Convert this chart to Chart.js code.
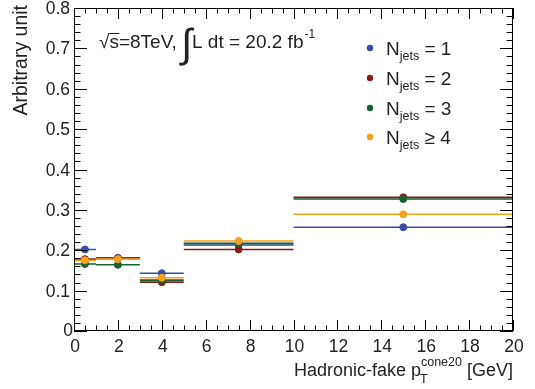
<!DOCTYPE html>
<html>
<head>
  <title>Hadronic-fake pT cone20</title>
  <style>
    body { margin: 0; background: #fff; }
    canvas { display: block; }
  </style>
</head>
<body>
  <canvas id="chart" width="535" height="389"></canvas>

  <script src="https://cdn.jsdelivr.net/npm/chart.js"></script>
  <script>
    // bins in pT cone20 [GeV]
    const binLo = [0, 1, 3, 5, 10];
    const binHi = [1, 3, 5, 10, 20];
    const binMid = [0.5, 2, 4, 7.5, 15];

    // arbitrary unit per bin
    const nJets1 = [0.202, 0.181, 0.143, 0.213, 0.257];
    const nJets2 = [0.178, 0.180, 0.121, 0.202, 0.331];
    const nJets3 = [0.166, 0.164, 0.126, 0.217, 0.327];
    const nJets4 = [0.175, 0.178, 0.132, 0.223, 0.289];

    const xTicks = [0, 2, 4, 6, 8, 10, 12, 14, 16, 18, 20];
    const yTicks = [0, 0.1, 0.2, 0.3, 0.4, 0.5, 0.6, 0.7, 0.8];
    const yTickLabels = ['0', '0.1', '0.2', '0.3', '0.4', '0.5', '0.6', '0.7', '0.8'];

    const FONT = '"Liberation Sans", Arial, sans-serif';

    const series = [
      { name: '\u2265 4', values: nJets4, color: '#f7a21b' },
      { name: '= 3', values: nJets3, color: '#1b6032' },
      { name: '= 2', values: nJets2, color: '#8c1c1c' },
      { name: '= 1', values: nJets1, color: '#3a4ba6' }
    ];

    function segments(values) {
      const out = [];
      values.forEach((v, i) => {
        out.push({ x: binLo[i], y: v });
        out.push({ x: binHi[i], y: v });
        out.push({ x: binHi[i], y: null });
      });
      return out;
    }

    const datasets = [];
    series.forEach(s => {
      datasets.push({
        type: 'scatter',
        data: binMid.map((x, i) => ({ x: x, y: s.values[i] })),
        backgroundColor: s.color,
        borderColor: s.color,
        pointRadius: 3.5,
        showLine: false
      });
      datasets.push({
        type: 'line',
        data: segments(s.values),
        borderColor: s.color,
        borderWidth: 1.6,
        pointRadius: 0,
        spanGaps: false,
        fill: false
      });
    });

    const rootAxes = {
      id: 'rootAxes',
      afterDraw(chart) {
        const ctx = chart.ctx;
        const xs = chart.scales.x, ys = chart.scales.y;
        const a = chart.chartArea;
        ctx.save();
        ctx.strokeStyle = '#000';
        ctx.lineWidth = 1;
        ctx.strokeRect(a.left + 0.5, a.top + 0.5, a.right - a.left - 1, a.bottom - a.top - 1);

        ctx.beginPath();
        for (let i = 0; i <= 40; i++) {
          const v = i * 0.5;
          const px = Math.round(xs.getPixelForValue(v)) + 0.5;
          const len = (i % 4 === 0) ? 11 : 5.5;
          ctx.moveTo(px, a.bottom); ctx.lineTo(px, a.bottom - len);
          ctx.moveTo(px, a.top); ctx.lineTo(px, a.top + len);
        }
        for (let i = 0; i <= 40; i++) {
          const v = i * 0.02;
          const py = Math.round(ys.getPixelForValue(v)) + 0.5;
          const len = (i % 5 === 0) ? 13 : 6.5;
          ctx.moveTo(a.left, py); ctx.lineTo(a.left + len, py);
          ctx.moveTo(a.right, py); ctx.lineTo(a.right - len, py);
        }
        ctx.stroke();

        ctx.fillStyle = '#222';
        ctx.font = '17.5px ' + FONT;
        ctx.textAlign = 'center';
        ctx.textBaseline = 'alphabetic';
        xTicks.forEach(v => {
          ctx.fillText(String(v), xs.getPixelForValue(v) + 1, a.bottom + 21);
        });
        ctx.textAlign = 'right';
        yTicks.forEach((v, i) => {
          const py = ys.getPixelForValue(v);
          if (i === 0) {
            ctx.fillText(yTickLabels[i], a.left - 1, py + 5);
          } else {
            ctx.fillText(yTickLabels[i], a.left - 4, py + 6);
          }
        });

        // x title
        ctx.textAlign = 'left';
        const t1 = 'Hadronic-fake p', t2 = ' [GeV]';
        ctx.font = '18px ' + FONT;
        const w1 = ctx.measureText(t1).width;
        ctx.font = '12.5px ' + FONT;
        const wsup = ctx.measureText('cone20').width;
        ctx.font = '18px ' + FONT;
        const w2 = ctx.measureText(t2).width;
        const x0 = a.right - (w1 + wsup + w2);
        const by = 376;
        ctx.fillText(t1, x0, by);
        ctx.font = '12.5px ' + FONT;
        ctx.fillText('cone20', x0 + w1, by - 10);
        ctx.fillText('T', x0 + w1 - 1, by + 7);
        ctx.font = '18px ' + FONT;
        ctx.fillText(t2, x0 + w1 + wsup, by);

        // y title
        ctx.save();
        ctx.translate(27, a.top - 3);
        ctx.rotate(-Math.PI / 2);
        ctx.textAlign = 'right';
        ctx.font = '19.5px ' + FONT;
        ctx.fillText('Arbitrary unit', 0, 0);
        ctx.restore();

        // energy / lumi label
        ctx.textAlign = 'left';
        ctx.font = '19px ' + FONT;
        const lx = 99, ly = 48;
        ctx.fillText('\u221A', lx, ly);
        const wr = ctx.measureText('\u221A').width;
        ctx.beginPath();
        ctx.moveTo(lx + wr - 0.5, ly - 14.5); ctx.lineTo(lx + wr + 10, ly - 14.5);
        ctx.lineWidth = 1; ctx.strokeStyle = '#222'; ctx.stroke();
        ctx.fillText('s=8TeV,', lx + wr, ly);
        ctx.font = '40px ' + FONT;
        ctx.fillText('\u222B', 181, ly + 9);
        ctx.font = '19px ' + FONT;
        ctx.fillText('L dt = 20.2 fb', 192, ly);
        const wl = ctx.measureText('L dt = 20.2 fb').width;
        ctx.font = '12px ' + FONT;
        ctx.fillText('-1', 192 + wl + 1, ly - 10);

        // legend
        const rows = [48, 78, 108, 137];
        series.slice().reverse().forEach((s, i) => {
          const ry = rows[i];
          ctx.fillStyle = s.color;
          ctx.beginPath();
          ctx.arc(370, ry, 3.2, 0, Math.PI * 2);
          ctx.fill();
          ctx.fillStyle = '#222';
          ctx.font = '19px ' + FONT;
          ctx.fillText('N', 386, ry + 7);
          const wn = ctx.measureText('N').width;
          ctx.font = '12.5px ' + FONT;
          ctx.fillText('jets', 386 + wn, ry + 12);
          const wj = ctx.measureText('jets').width;
          ctx.font = '19px ' + FONT;
          ctx.fillText(' ' + s.name, 386 + wn + wj, ry + 7);
        });
        ctx.restore();
      }
    };

    new Chart(document.getElementById('chart').getContext('2d'), {
      data: { datasets: datasets },
      options: {
        responsive: false,
        animation: false,
        layout: { padding: { left: 74, right: 22, top: 8, bottom: 58 } },
        plugins: { legend: { display: false }, tooltip: { enabled: false } },
        scales: {
          x: { type: 'linear', min: 0, max: 20, display: false },
          y: { type: 'linear', min: 0, max: 0.8, display: false }
        }
      },
      plugins: [rootAxes]
    });
  </script>
</body>
</html>
